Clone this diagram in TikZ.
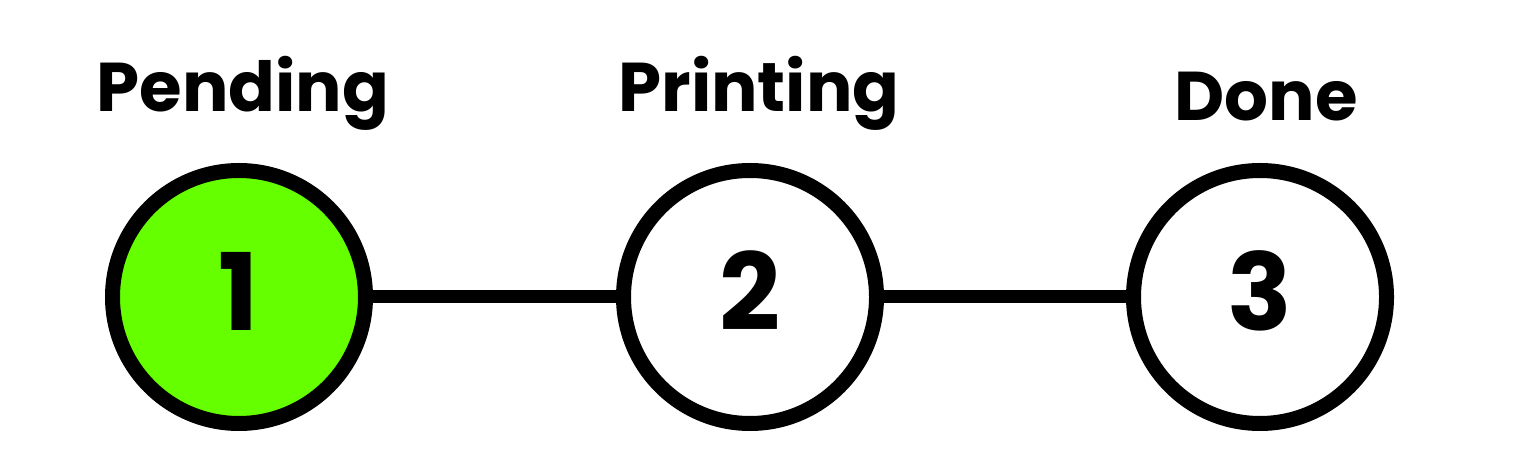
\documentclass[tikz,border=0pt]{standalone}
\usepackage{fontspec}
\setmainfont{Poppins}
\usepackage{xcolor}
\usepackage{tikz}
\definecolor{pendinggreen}{HTML}{66FF00}

\tikzset{
    stepring/.style={circle, draw=black, fill=white, line width=7.5pt,
        minimum size=126.5pt, inner sep=0pt, text depth=6pt,
        font=\fontsize{53.5}{60}\selectfont\bfseries},
    steptitle/.style={anchor=base, font=\fontsize{34.5}{40}\selectfont\bfseries},
    stepline/.style={line width=6.5pt}
}

\begin{document}
\begin{tikzpicture}[x=0.5pt,y=-0.5pt]
    \useasboundingbox (0,0) rectangle (1535,459);

    % Step circles
    \node[stepring, fill=pendinggreen] (pending) at (239,297) {1};
    \node[stepring] (printing) at (750,297) {2};
    \node[stepring] (done) at (1260,297) {3};

    % Connectors
    \draw[stepline] (pending) -- (printing);
    \draw[stepline] (printing) -- (done);

    % Titles
    \node[steptitle] (pendingtitle) at (243,112) {Pending};
    \node[steptitle] (printingtitle) at (759,112) {Printing};
    \node[steptitle] (donetitle) at (1266,121) {Done};
\end{tikzpicture}
\end{document}
